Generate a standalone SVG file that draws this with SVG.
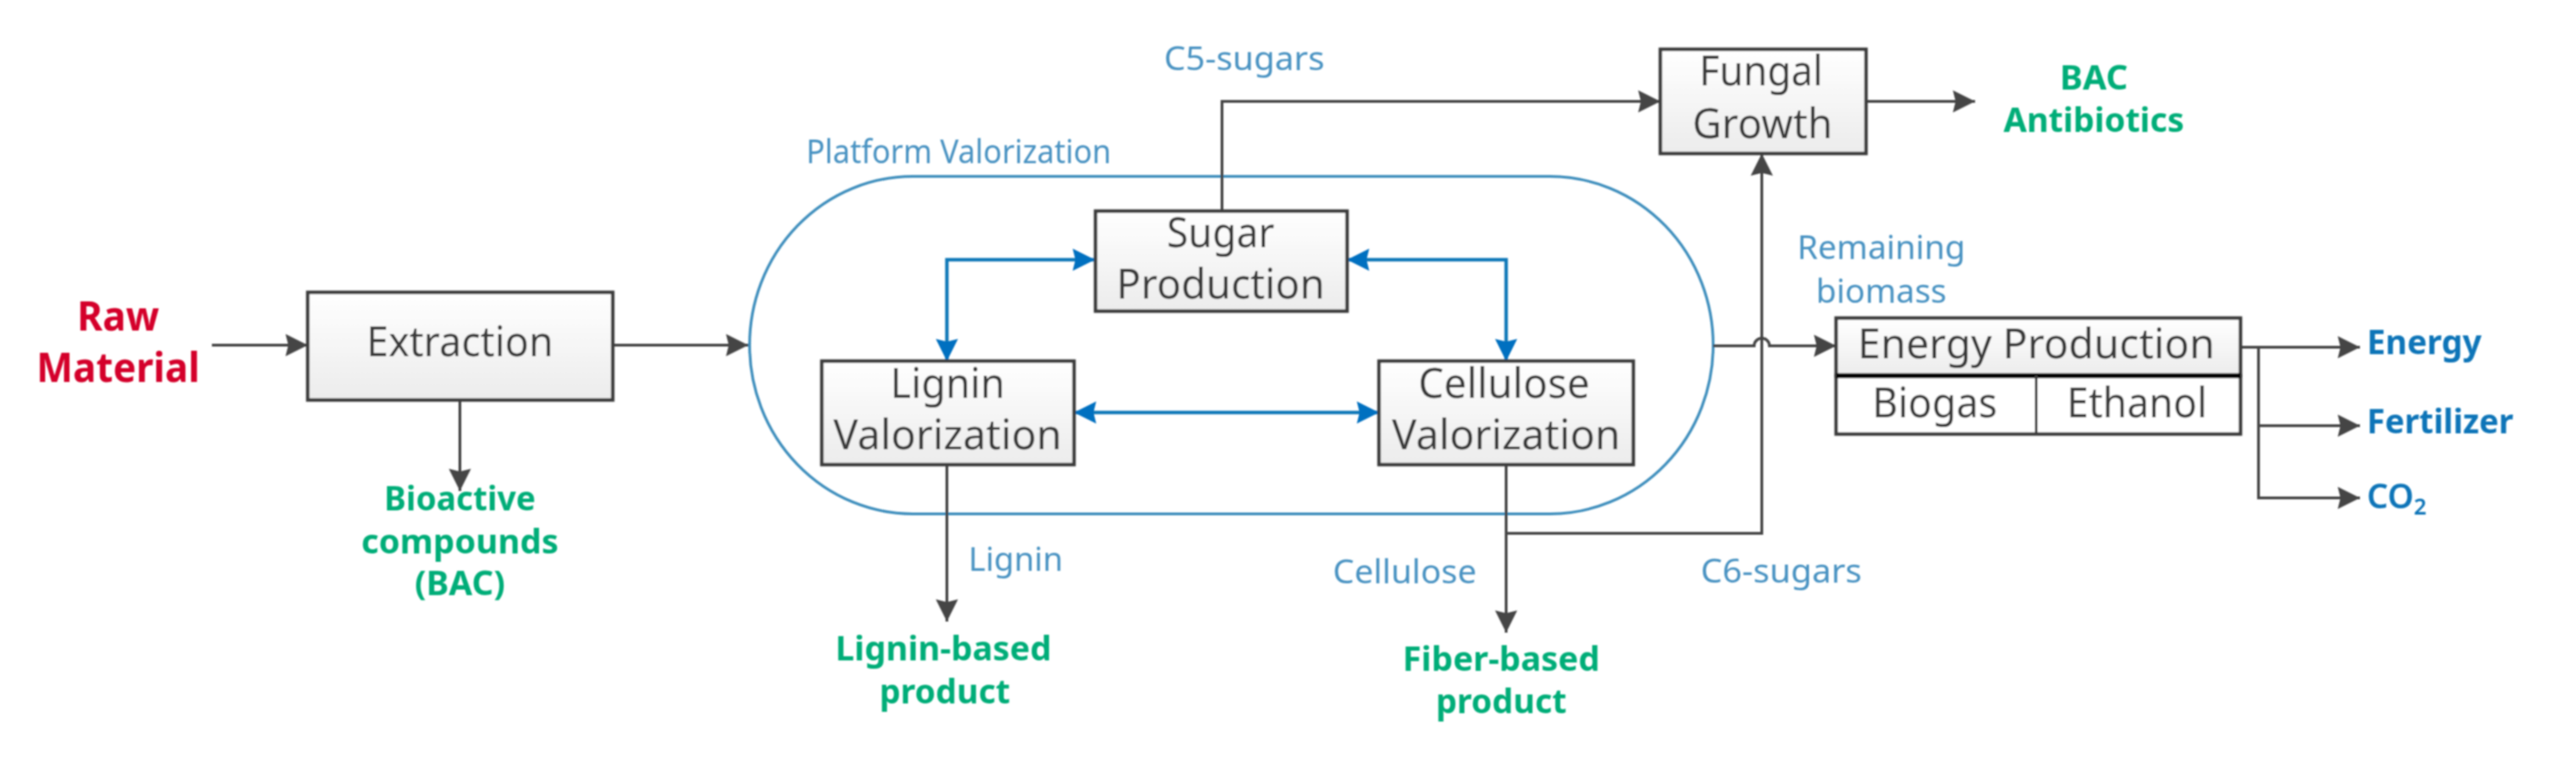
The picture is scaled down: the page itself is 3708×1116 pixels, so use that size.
<svg xmlns="http://www.w3.org/2000/svg" width="3708" height="1116" viewBox="0 0 3708 1116">
<style>
text{font-family:"Noto Sans","Liberation Sans",sans-serif;text-anchor:middle}
.box{stroke:#3c3c3c;stroke-width:5;fill:url(#g)}
.t{font-size:60px;fill:#3a3a3a}
.red{font-size:60px;font-weight:700;fill:#d4062a}
.gr{font-size:48px;font-weight:700;fill:#00ad78}
.bl{font-size:48px;font-weight:700;fill:#0a74b8;text-anchor:start}
.lb{font-size:48px;fill:#4a93c2}
.c{fill:none;stroke:#444;stroke-width:4}
.a{marker-end:url(#ah)}
.b{fill:none;stroke:#0f78b8;stroke-width:5;marker-start:url(#bhs);marker-end:url(#bh)}
</style>
<defs>
<linearGradient id="g" x1="0" y1="0" x2="0" y2="1"><stop offset="0" stop-color="#fff"/><stop offset="1" stop-color="#ececec"/></linearGradient>
<marker id="ah" markerUnits="userSpaceOnUse" markerWidth="34" markerHeight="34" refX="32" refY="17" orient="auto"><path d="M0,1 L32,17 L0,33 L4,17 z" fill="#444"/></marker>
<marker id="bh" markerUnits="userSpaceOnUse" markerWidth="34" markerHeight="34" refX="32" refY="17" orient="auto"><path d="M0,1 L32,17 L0,33 L4,17 z" fill="#0070c0"/></marker>
<marker id="bhs" markerUnits="userSpaceOnUse" markerWidth="34" markerHeight="34" refX="2" refY="17" orient="auto"><path d="M34,1 L2,17 L34,33 L30,17 z" fill="#0070c0"/></marker>
<filter id="s" x="-1%" y="-1%" width="102%" height="102%"><feGaussianBlur stdDeviation="1"/></filter>
</defs>
<rect width="3708" height="1116" fill="#fff"/>
<g filter="url(#s)">
<g id="platform">
<rect x="1079" y="254" width="1387" height="486" rx="235" ry="243" fill="none" stroke="#3f8fbd" stroke-width="4"/>
<text class="lb" x="1380" y="235" textLength="439" lengthAdjust="spacingAndGlyphs">Platform Valorization</text>
</g>
<g id="connectors">
<path class="c a" d="M305,497 H443"/>
<path class="c a" d="M882,497 H1077"/>
<path class="c a" d="M662,576 V707"/>
<path class="c a" d="M1759,304 V146 H2390"/>
<path class="c a" d="M2686,146 H2843"/>
<path class="c a" d="M1363,669 V895"/>
<path class="c a" d="M2168,669 V911"/>
<path class="c a" d="M2168,768 H2536 V221"/>
<path class="c a" d="M2466,498 H2525 a11,11 0 0 1 22,0 H2643"/>
<path class="c a" d="M3225,500 H3397"/>
<path class="c a" d="M3251,500 V613 H3397"/>
<path class="c a" d="M3251,613 V717 H3397"/>
<path class="b" d="M1363,520 V374 H1576"/>
<path class="b" d="M2168,520 V374 H1939"/>
<path class="b" d="M1546,594 H1985"/>
</g>
<g id="raw-material">
<text class="red" x="170" y="476" textLength="118" lengthAdjust="spacingAndGlyphs">Raw</text>
<text class="red" x="170" y="550" textLength="235" lengthAdjust="spacingAndGlyphs">Material</text>
</g>
<g id="extraction">
<rect class="box" x="443" y="421" width="439" height="155"/>
<text class="t" x="662" y="513" textLength="269" lengthAdjust="spacingAndGlyphs">Extraction</text>
</g>
<g id="sugar-production">
<rect class="box" x="1577" y="304" width="362" height="144"/>
<text class="t" x="1757" y="356" textLength="155" lengthAdjust="spacingAndGlyphs">Sugar</text>
<text class="t" x="1757" y="430" textLength="300" lengthAdjust="spacingAndGlyphs">Production</text>
</g>
<g id="lignin-valorization">
<rect class="box" x="1183" y="520" width="363" height="149"/>
<text class="t" x="1364" y="573" textLength="165" lengthAdjust="spacingAndGlyphs">Lignin</text>
<text class="t" x="1364" y="647" textLength="329" lengthAdjust="spacingAndGlyphs">Valorization</text>
</g>
<g id="cellulose-valorization">
<rect class="box" x="1985" y="520" width="366" height="149"/>
<text class="t" x="2165" y="573" textLength="247" lengthAdjust="spacingAndGlyphs">Cellulose</text>
<text class="t" x="2168" y="647" textLength="329" lengthAdjust="spacingAndGlyphs">Valorization</text>
</g>
<g id="fungal-growth">
<rect class="box" x="2390" y="71" width="296" height="150"/>
<text class="t" x="2535" y="123" textLength="178" lengthAdjust="spacingAndGlyphs">Fungal</text>
<text class="t" x="2537" y="199" textLength="202" lengthAdjust="spacingAndGlyphs">Growth</text>
</g>
<g id="energy-production">
<rect class="box" x="2643" y="458" width="582" height="83"/>
<rect x="2643" y="541" width="582" height="84" fill="#fff" stroke="#3c3c3c" stroke-width="5"/>
<path d="M2643,541 H3225" stroke="#000" stroke-width="7"/>
<path d="M2931,541 V625" stroke="#3c3c3c" stroke-width="4"/>
<text class="t" x="2931" y="516" textLength="514" lengthAdjust="spacingAndGlyphs">Energy Production</text>
<text class="t" x="2785" y="601" textLength="180" lengthAdjust="spacingAndGlyphs">Biogas</text>
<text class="t" x="3076" y="601" textLength="202" lengthAdjust="spacingAndGlyphs">Ethanol</text>
</g>
<g id="bac">
<text class="gr" x="662" y="735" textLength="218" lengthAdjust="spacingAndGlyphs">Bioactive</text>
<text class="gr" x="662" y="797" textLength="284" lengthAdjust="spacingAndGlyphs">compounds</text>
<text class="gr" x="662" y="857" textLength="130" lengthAdjust="spacingAndGlyphs">(BAC)</text>
</g>
<g id="lignin-product">
<text class="gr" x="1358" y="951" textLength="311" lengthAdjust="spacingAndGlyphs">Lignin-based</text>
<text class="gr" x="1360" y="1013" textLength="188" lengthAdjust="spacingAndGlyphs">product</text>
</g>
<g id="fiber-product">
<text class="gr" x="2161" y="966" textLength="284" lengthAdjust="spacingAndGlyphs">Fiber-based</text>
<text class="gr" x="2161" y="1027" textLength="188" lengthAdjust="spacingAndGlyphs">product</text>
</g>
<g id="bac-antibiotics">
<text class="gr" x="3014" y="129" textLength="98" lengthAdjust="spacingAndGlyphs">BAC</text>
<text class="gr" x="3014" y="190" textLength="260" lengthAdjust="spacingAndGlyphs">Antibiotics</text>
</g>
<g id="outputs">
<text class="bl" x="3407" y="510" textLength="165" lengthAdjust="spacingAndGlyphs">Energy</text>
<text class="bl" x="3407" y="624" textLength="211" lengthAdjust="spacingAndGlyphs">Fertilizer</text>
<text class="bl" x="3407" y="732" style="font-weight:600">CO<tspan font-size="32" dy="9">2</tspan></text>
</g>
<g id="labels">
<text class="lb" x="1791" y="101" textLength="231" lengthAdjust="spacingAndGlyphs">C5-sugars</text>
<text class="lb" x="1462" y="822" textLength="136" lengthAdjust="spacingAndGlyphs">Lignin</text>
<text class="lb" x="2022" y="840" textLength="207" lengthAdjust="spacingAndGlyphs">Cellulose</text>
<text class="lb" x="2564" y="839" textLength="232" lengthAdjust="spacingAndGlyphs">C6-sugars</text>
<text class="lb" x="2708" y="373" textLength="242" lengthAdjust="spacingAndGlyphs">Remaining</text>
<text class="lb" x="2708" y="436" textLength="188" lengthAdjust="spacingAndGlyphs">biomass</text>
</g>
</g>
</svg>
